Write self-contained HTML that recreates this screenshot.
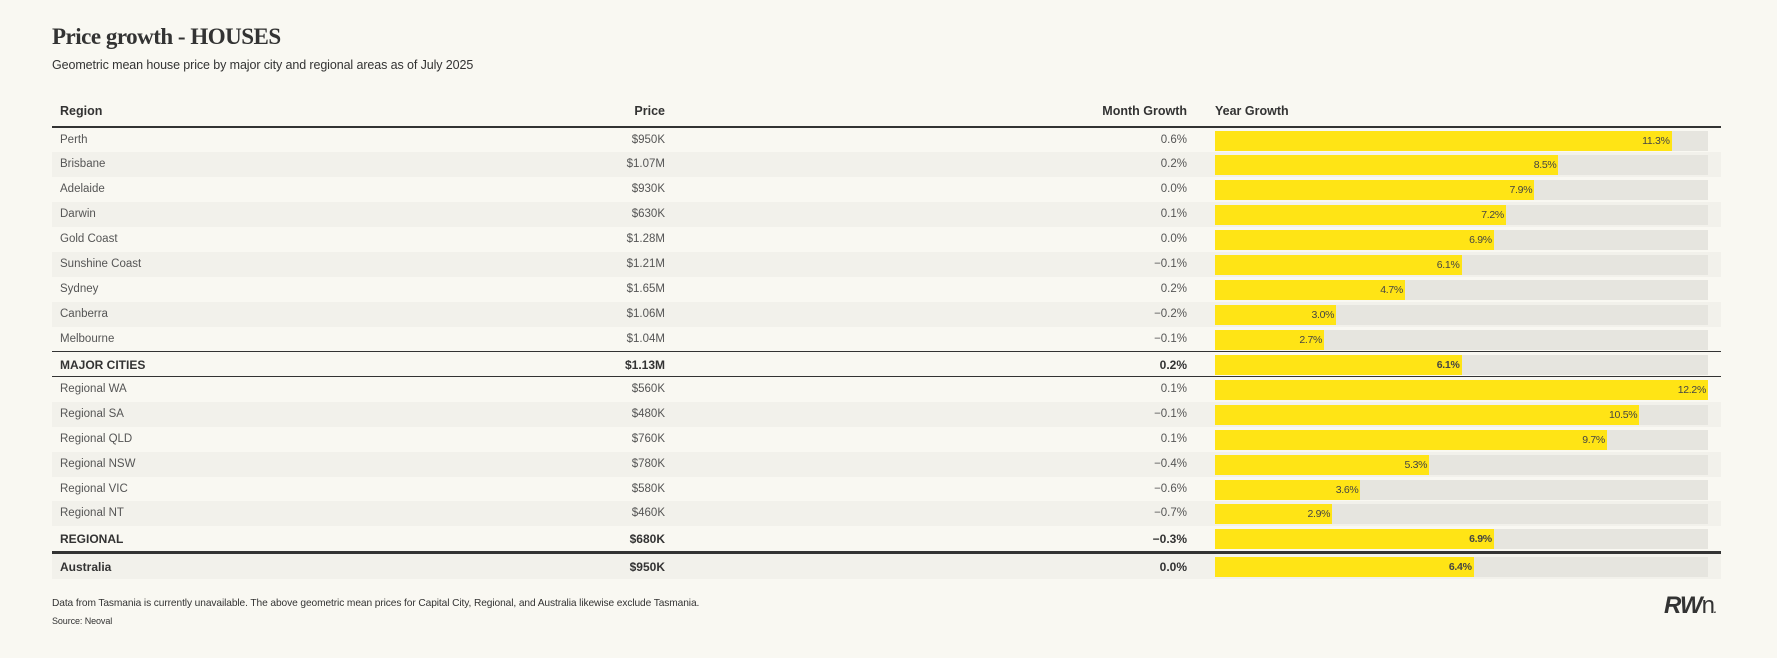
<!DOCTYPE html>
<html><head><meta charset="utf-8"><style>
body{margin:0;width:1777px;height:658px;background:#f9f8f2;font-family:"Liberation Sans",sans-serif;position:relative;overflow:hidden;color:#333}
#title{position:absolute;left:52px;top:24px;font-family:"Liberation Serif",serif;font-weight:bold;font-size:23px;color:#333;letter-spacing:-0.5px}
#sub{position:absolute;left:52px;top:58px;font-size:12.5px;color:#333;letter-spacing:-0.1px}
.hdr{position:absolute;top:104px;font-size:12.5px;font-weight:bold;color:#333}
.row{position:absolute;left:52px;width:1669px;height:25px;font-size:11.5px;color:#555}
.row .c{position:absolute;top:6px}
.row.b{font-weight:bold;color:#333;font-size:12px}
.track{position:absolute;left:1163px;top:3px;width:493px;height:20px;background:#e6e5df}
.bar{position:absolute;left:0;top:0;height:20px;background:#ffe415}
.bar span{position:absolute;right:2px;top:4px;font-size:10.5px;color:#444;letter-spacing:-0.3px}
.line{position:absolute;left:52px;width:1669px;background:#333}
.foot{position:absolute;left:52px;font-size:10.2px;color:#333;letter-spacing:-0.1px}
</style></head><body>
<div id="title">Price growth - HOUSES</div>
<div id="sub">Geometric mean house price by major city and regional areas as of July 2025</div>
<div class="hdr" style="left:60px">Region</div>
<div class="hdr" style="right:1112px">Price</div>
<div class="hdr" style="right:590px">Month Growth</div>
<div class="hdr" style="left:1215px">Year Growth</div>
<div class="line" style="top:126px;height:1.5px"></div>
<div id="tbl"></div>
<div class="foot" style="top:598px">Data from Tasmania is currently unavailable. The above geometric mean prices for Capital City, Regional, and Australia likewise exclude Tasmania.</div>
<div class="foot" style="top:616px;font-size:9px">Source: Neoval</div>
<div style="position:absolute;left:1664px;top:592px;font-size:24px;font-weight:bold;font-style:italic;color:#333;letter-spacing:-1px">RW<span style="font-weight:normal;font-style:normal">n</span><span style="font-size:10px">.</span></div>
<script>
const regions=["Perth","Brisbane","Adelaide","Darwin","Gold Coast","Sunshine Coast","Sydney","Canberra","Melbourne","MAJOR CITIES","Regional WA","Regional SA","Regional QLD","Regional NSW","Regional VIC","Regional NT","REGIONAL","Australia"];
const prices=["$950K","$1.07M","$930K","$630K","$1.28M","$1.21M","$1.65M","$1.06M","$1.04M","$1.13M","$560K","$480K","$760K","$780K","$580K","$460K","$680K","$950K"];
const monthGrowth=["0.6%","0.2%","0.0%","0.1%","0.0%","\u22120.1%","0.2%","\u22120.2%","\u22120.1%","0.2%","0.1%","\u22120.1%","0.1%","\u22120.4%","\u22120.6%","\u22120.7%","\u22120.3%","0.0%"];
const yearGrowth=[11.3,8.5,7.9,7.2,6.9,6.1,4.7,3.0,2.7,6.1,12.2,10.5,9.7,5.3,3.6,2.9,6.9,6.4];
const boldRows=[9,16,17];
const darkRows=[1,3,5,7,11,13,15,17];
const maxV=12.2,trackW=493,rowH=24.93,top0=127.5;
function xs(v){return v/maxV*trackW;}
const tbl=document.getElementById('tbl');
let y=top0;
regions.forEach((r,i)=>{
  if(i===17){y+=3;}
  const row=document.createElement('div');
  
  
  row.className='row'+(boldRows.includes(i)?' b':'');
  row.style.top=y+'px';
  row.style.background=darkRows.includes(i)?'#f2f1eb':'#f9f8f2';
  if(!boldRows.includes(i)&&i!==8&&i!==15)row.style.borderBottom='1px solid #e2e1dc';
  row.innerHTML=`<div class="c" style="left:8px">${r}</div><div class="c" style="right:1056px">${prices[i]}</div><div class="c" style="right:534px">${monthGrowth[i]}</div>`;
  const tr=document.createElement('div');tr.className='track';
  
  
  const b=document.createElement('div');b.className='bar';
  
  
  b.style.width=xs(yearGrowth[i])+'px';
  b.innerHTML=`<span>${yearGrowth[i].toFixed(1)}%</span>`;
  tr.appendChild(b);row.appendChild(tr);tbl.appendChild(row);
  y+=rowH;
  if(i===8||i===9){const l=document.createElement('div');l.className='line';l.style.top=(y-1)+'px';l.style.height='1.5px';
  
  tbl.appendChild(l);}
  if(i===16){const l=document.createElement('div');l.className='line';l.style.top=(y)+'px';l.style.height='3px';
  
  tbl.appendChild(l);}
});
</script>
</body></html>
